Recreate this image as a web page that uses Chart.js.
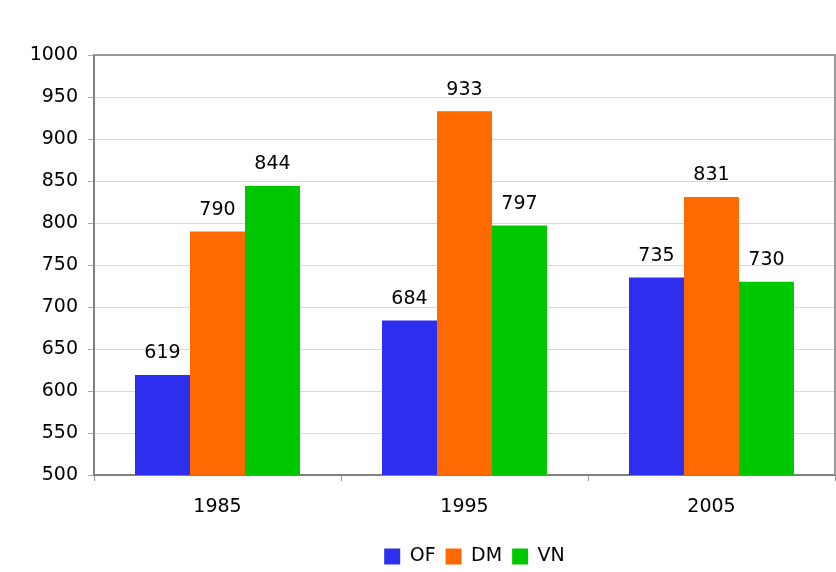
<!DOCTYPE html>
<html><head><meta charset="utf-8">
<script src="https://cdn.jsdelivr.net/npm/chart.js@4/dist/chart.umd.min.js"></script>
<style>html,body{margin:0;padding:0;background:#fff}#wrap{width:836px;height:572px}</style>
</head><body><div id="wrap"><canvas id="c" width="836" height="572"></canvas></div>
<script>
const categories = ["1985", "1995", "2005"];
const seriesNames = ["OF", "DM", "VN"];
const valuesOF = [619, 684, 735];
const valuesDM = [790, 933, 831];
const valuesVN = [844, 797, 730];
const yTicks = [500, 550, 600, 650, 700, 750, 800, 850, 900, 950, 1000];
const colors = ["#2e2eef", "#ff6a00", "#00c800"];
const FONT = "'DejaVu Sans', Verdana, sans-serif";

const labelPlugin = {
  id: 'labels',
  afterDatasetsDraw(chart) {
    const ctx = chart.ctx;
    ctx.save();
    ctx.font = "19px " + FONT;
    ctx.fillStyle = "#000";
    ctx.textAlign = "center";
    ctx.textBaseline = "bottom";
    chart.data.datasets.forEach((ds, i) => {
      chart.getDatasetMeta(i).data.forEach((el, j) => {
        ctx.fillText(String(ds.data[j]), el.x, el.y - 12);
      });
    });
    ctx.restore();
  }
};
const borderPlugin = {
  id: 'frame',
  afterLayout(chart) {
    if (chart.legend) { chart.legend.left += 57; chart.legend.right += 57; }
  },
  afterDraw(chart) {
    const a = chart.chartArea, ctx = chart.ctx;
    ctx.save();
    ctx.strokeStyle = "#999";
    ctx.lineWidth = 2;
    ctx.beginPath();
    ctx.moveTo(a.left, a.top);
    ctx.lineTo(a.right, a.top);
    ctx.lineTo(a.right, a.bottom);
    ctx.stroke();
    ctx.restore();
  }
};

new Chart(document.getElementById('c'), {
  type: 'bar',
  data: {
    labels: categories,
    datasets: [
      { label: seriesNames[0], data: valuesOF, backgroundColor: colors[0] },
      { label: seriesNames[1], data: valuesDM, backgroundColor: colors[1] },
      { label: seriesNames[2], data: valuesVN, backgroundColor: colors[2] }
    ]
  },
  plugins: [labelPlugin, borderPlugin],
  options: {
    responsive: false,
    animation: false,
    layout: { padding: { left: 0, right: 1, top: 55, bottom: -4 } },
    datasets: { bar: { categoryPercentage: 0.668, barPercentage: 1.0 } },
    plugins: {
      legend: {
        position: 'bottom',
        labels: { font: { family: FONT, size: 19 }, color: '#000', boxWidth: 16, boxHeight: 16, padding: 10 }
      },
      tooltip: { enabled: false }
    },
    scales: {
      x: {
        offset: true,
        grid: { display: true, drawOnChartArea: false, offset: true, tickLength: 6, color: '#999' },
        border: { color: '#808080', width: 2 },
        ticks: { font: { family: FONT, size: 19 }, color: '#000', padding: 15 },
        afterFit(s) { s.height = 62; }
      },
      y: {
        min: 500, max: 1000,
        afterBuildTicks(s) { s.ticks = yTicks.map(v => ({ value: v })); },
        grid: { color: '#d9d9d9', tickLength: 6, tickColor: '#aaa' },
        border: { color: '#808080', width: 2 },
        ticks: { font: { family: FONT, size: 19 }, color: '#000', padding: 10, callback: v => String(v) },
        afterFit(s) { s.width = 94; }
      }
    }
  }
});
</script></body></html>
